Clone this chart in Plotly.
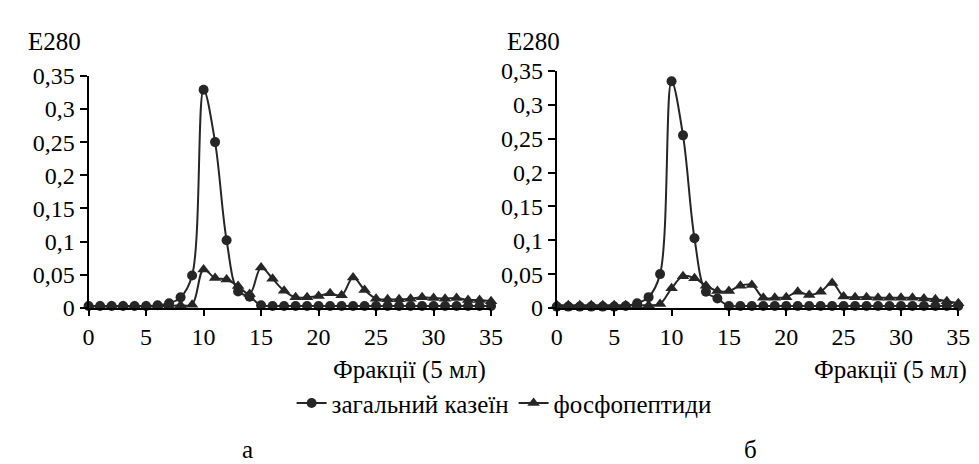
import plotly.graph_objects as go

# ---------------- data ----------------
fractions = list(range(36))

casein_a = [0.003, 0.003, 0.003, 0.003, 0.003, 0.003, 0.004, 0.007, 0.016, 0.049,
            0.329, 0.250, 0.102, 0.025, 0.017, 0.004, 0.003, 0.003, 0.003, 0.003,
            0.003, 0.003, 0.003, 0.003, 0.003, 0.003, 0.003, 0.003, 0.003, 0.003,
            0.003, 0.003, 0.003, 0.003, 0.003, 0.003]
phospho_a = [0.003, 0.003, 0.003, 0.003, 0.003, 0.003, 0.003, 0.003, 0.004, 0.005,
             0.058, 0.045, 0.043, 0.033, 0.021, 0.061, 0.044, 0.026, 0.016, 0.016,
             0.018, 0.022, 0.019, 0.046, 0.027, 0.014, 0.013, 0.013, 0.014, 0.016,
             0.015, 0.014, 0.015, 0.012, 0.012, 0.010]

casein_b = [0.002, 0.002, 0.002, 0.002, 0.002, 0.002, 0.003, 0.007, 0.016, 0.050,
            0.335, 0.255, 0.103, 0.024, 0.014, 0.003, 0.003, 0.003, 0.003, 0.003,
            0.003, 0.003, 0.003, 0.003, 0.003, 0.003, 0.003, 0.003, 0.003, 0.003,
            0.003, 0.003, 0.003, 0.003, 0.003, 0.003]
phospho_b = [0.004, 0.004, 0.004, 0.004, 0.004, 0.004, 0.004, 0.004, 0.004, 0.006,
             0.029, 0.047, 0.044, 0.033, 0.025, 0.025, 0.033, 0.034, 0.015, 0.015,
             0.016, 0.024, 0.019, 0.024, 0.037, 0.017, 0.016, 0.016, 0.015, 0.015,
             0.015, 0.015, 0.014, 0.013, 0.010, 0.007]

series_names = ["загальний казеїн", "фосфопептиди"]
x_ticks = [0, 5, 10, 15, 20, 25, 30, 35]
y_ticks = [0, 0.05, 0.1, 0.15, 0.2, 0.25, 0.3, 0.35]
y_tick_text = ["0", "0,05", "0,1", "0,15", "0,2", "0,25", "0,3", "0,35"]
y_title = "E280"
x_title = "Фракції (5 мл)"
panel_labels = ["а", "б"]

# ---------------- style ----------------
W, H = 979, 464
FONT = "Liberation Serif, Times New Roman, serif"
FS_TICK = 24
FS_TEXT = 25
INK = "#262626"

fig = go.Figure()

def add_series(xa, ya, y, name, symbol, show):
    fig.add_trace(go.Scatter(
        x=fractions, y=y, name=name, xaxis=xa, yaxis=ya,
        mode="lines+markers", showlegend=show, cliponaxis=False,
        line=dict(color=INK, width=2, shape="spline", smoothing=1.0),
        marker=dict(symbol=symbol, size=10 if symbol == "circle" else 11, color=INK,
                    line=dict(width=0)),
    ))

add_series("x", "y", casein_a, series_names[0], "circle", True)
add_series("x", "y", phospho_a, series_names[1], "triangle-up", True)
add_series("x2", "y2", casein_b, series_names[0], "circle", False)
add_series("x2", "y2", phospho_b, series_names[1], "triangle-up", False)

def px_x(p):
    return p / W

def px_y(p):
    return 1 - p / H

xaxis_common = dict(range=[0, 35], tickvals=x_ticks, showgrid=False, zeroline=False,
                    showline=True, linecolor="black", linewidth=2,
                    ticks="outside", ticklen=6, tickwidth=2, tickcolor="black",
                    tickfont=dict(family=FONT, size=FS_TICK, color="black"))
yaxis_common = dict(range=[0, 0.35], tickvals=y_ticks, ticktext=y_tick_text,
                    showgrid=False, zeroline=False,
                    showline=True, linecolor="black", linewidth=2,
                    ticks="outside", ticklen=7, tickwidth=2, tickcolor="black",
                    tickfont=dict(family=FONT, size=FS_TICK, color="black"))

fig.update_layout(
    width=W, height=H,
    margin=dict(l=0, r=0, t=0, b=0),
    paper_bgcolor="white", plot_bgcolor="white",
    font=dict(family=FONT, size=FS_TEXT, color="black"),
    xaxis=dict(domain=[px_x(76), px_x(486)], anchor="y", **xaxis_common),
    yaxis=dict(domain=[px_y(304), px_y(58)], anchor="x", **yaxis_common),
    xaxis2=dict(domain=[px_x(553), px_x(962)], anchor="y2", **xaxis_common),
    yaxis2=dict(domain=[px_y(304), px_y(53)], anchor="x2", **yaxis_common),
    legend=dict(orientation="h", x=0.51, y=px_y(405), xanchor="center", yanchor="middle",
                font=dict(family=FONT, size=FS_TEXT, color="black"),
                itemwidth=30, tracegroupgap=0, bgcolor="rgba(0,0,0,0)"),
    showlegend=True,
)

annotations = [
    dict(text=y_title, x=px_x(12), y=px_y(22), xanchor="left", yanchor="middle"),
    dict(text=y_title, x=px_x(500), y=px_y(22), xanchor="left", yanchor="middle"),
    dict(text=x_title, x=px_x(483), y=px_y(370), xanchor="right", yanchor="middle"),
    dict(text=x_title, x=px_x(973), y=px_y(370), xanchor="right", yanchor="middle"),
    dict(text=panel_labels[0], x=px_x(238), y=px_y(454), xanchor="center", yanchor="middle"),
    dict(text=panel_labels[1], x=px_x(750), y=px_y(454), xanchor="center", yanchor="middle"),
]
for a in annotations:
    a.update(xref="paper", yref="paper", showarrow=False,
             font=dict(family=FONT, size=FS_TEXT, color="black"))
fig.update_layout(annotations=annotations)

fig.write_html("out.html")
